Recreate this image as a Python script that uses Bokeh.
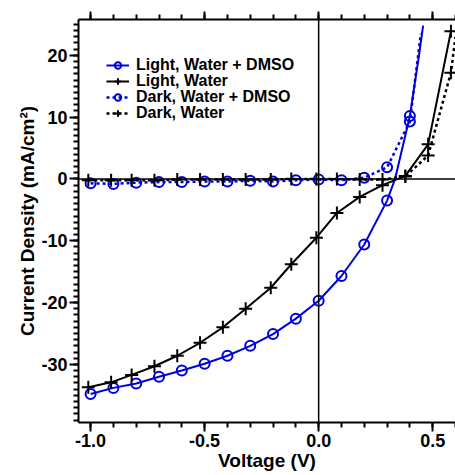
from bokeh.plotting import figure
from bokeh.models import (Range1d, LinearAxis, SingleIntervalTicker, Span, Legend,
                          LegendItem, PrintfTickFormatter, CustomJSTickFormatter)
from bokeh.embed import file_html
from bokeh.resources import INLINE

# ---- data ----
# Light, Water + DMSO (blue solid, circles)
ld_v = [-1.0, -0.9, -0.8, -0.7, -0.6, -0.5, -0.4, -0.3, -0.2, -0.1, 0.0, 0.1, 0.2, 0.3, 0.4]
ld_j = [-34.8, -33.8, -33.1, -32.0, -31.0, -29.9, -28.6, -27.0, -25.1, -22.6, -19.7, -15.7, -10.6, -3.5, 10.2]
# the drawn curve through the markers, with extra points
ld_curve_v = [-1.0, -0.9, -0.8, -0.7, -0.6, -0.5, -0.4, -0.3, -0.2, -0.1, 0.0, 0.1, 0.2, 0.3, 0.335, 0.4, 0.44, 0.458]
ld_curve_j = [-34.8, -33.8, -33.1, -32.0, -31.0, -29.9, -28.6, -27.0, -25.1, -22.6, -19.7, -15.7, -10.6, -3.5, 0.0, 10.2, 20.0, 24.8]

# Light, Water (black solid, plus)
lw_v = [-1.01, -0.91, -0.82, -0.72, -0.62, -0.52, -0.42, -0.32, -0.21, -0.12, -0.01, 0.08, 0.18, 0.28, 0.38, 0.48, 0.58]
lw_j = [-33.7, -32.9, -31.7, -30.3, -28.6, -26.5, -24.0, -21.0, -17.6, -13.8, -9.5, -5.5, -2.9, -1.0, 0.5, 5.6, 23.9]

# Dark, Water + DMSO (blue dashed, circles)
dd_v = [-1.0, -0.9, -0.8, -0.7, -0.6, -0.5, -0.4, -0.3, -0.2, -0.1, 0.0, 0.1, 0.2, 0.3, 0.4]
dd_j = [-0.7, -0.8, -0.6, -0.5, -0.5, -0.4, -0.4, -0.3, -0.4, -0.2, -0.1, -0.2, 0.2, 1.9, 9.3]
dd_curve_v = [-1.0, -0.9, -0.8, -0.7, -0.6, -0.5, -0.4, -0.3, -0.2, -0.1, 0.0, 0.1, 0.2, 0.3, 0.4, 0.448]
dd_curve_j = [-0.7, -0.8, -0.6, -0.5, -0.5, -0.4, -0.4, -0.3, -0.4, -0.2, -0.1, -0.2, 0.2, 1.9, 9.3, 23.5]

# Dark, Water (black dotted, plus)
dw_v = [-1.01, -0.91, -0.82, -0.72, -0.62, -0.52, -0.42, -0.32, -0.21, -0.12, -0.01, 0.08, 0.18, 0.28, 0.38, 0.48, 0.58]
dw_j = [-0.2, -0.2, -0.2, -0.2, -0.1, -0.1, -0.1, -0.1, -0.1, 0.0, 0.0, 0.0, -0.1, -0.1, 0.4, 3.8, 17.2]
dw_curve_v = [-1.01, -0.91, -0.82, -0.72, -0.62, -0.52, -0.42, -0.32, -0.21, -0.12, -0.01, 0.08, 0.18, 0.28, 0.38, 0.48, 0.58, 0.60]
dw_curve_j = [-0.2, -0.2, -0.2, -0.2, -0.1, -0.1, -0.1, -0.1, -0.1, 0.0, 0.0, 0.0, -0.1, -0.1, 0.4, 3.8, 17.2, 23.0]

labels = ["Light, Water + DMSO", "Light, Water", "Dark, Water + DMSO", "Dark, Water"]

BLUE = "#0000DD"
BLACK = "#000000"
FONT = "Liberation Sans"

p = figure(width=455, height=475,
           x_range=Range1d(-1.053, 0.60), y_range=Range1d(-39.4, 25.8),
           output_backend="svg", toolbar_location=None,
           min_border_left=78, min_border_right=0, min_border_top=19, min_border_bottom=53)
p.xgrid.visible = False
p.ygrid.visible = False
p.outline_line_color = None
p.background_fill_color = "white"

# axes
xa = p.xaxis[0]
xa.ticker = SingleIntervalTicker(interval=0.5, num_minor_ticks=5)
xa.formatter = PrintfTickFormatter(format="%.1f")
ya = p.yaxis[0]
ya.ticker = SingleIntervalTicker(interval=10, num_minor_ticks=10)
ya.formatter = PrintfTickFormatter(format="%d")
for ax in (xa, ya):
    ax.axis_line_width = 2
    ax.major_tick_line_width = 2
    ax.minor_tick_line_width = 2
    ax.major_tick_in = 0
    ax.minor_tick_in = 0
    ax.major_tick_out = 9
    ax.minor_tick_out = 5
    ax.major_label_text_font = FONT
    ax.major_label_text_font_style = "bold"
    ax.major_label_text_font_size = "18px"
    ax.major_label_text_color = "black"
    ax.axis_label_text_font = FONT
    ax.axis_label_text_font_style = "bold"
    ax.axis_label_text_font_size = "19px"
    ax.axis_label_text_color = "black"
xa.major_label_standoff = 2
xa.axis_label_standoff = 0
ya.major_label_standoff = 2
ya.axis_label_standoff = 0
xa.axis_label = "Voltage (V)"
ya.axis_label = "Current Density (mA/cm²)"

top = LinearAxis(ticker=SingleIntervalTicker(interval=0.5, num_minor_ticks=5),
                 formatter=CustomJSTickFormatter(code="return ''"),
                 axis_line_width=2, major_tick_line_width=2, minor_tick_line_width=2,
                 major_tick_in=0, minor_tick_in=0, major_tick_out=8, minor_tick_out=5,
                 major_label_standoff=0, major_label_text_font_size="1px")
p.add_layout(top, "above")

# zero lines
p.add_layout(Span(location=0, dimension="height", line_color="black", line_width=1.5))
p.add_layout(Span(location=0, dimension="width", line_color="black", line_width=1.5))

# series
r_ld_l = p.line(ld_curve_v, ld_curve_j, line_color=BLUE, line_width=2)
r_ld_m = p.scatter(ld_v, ld_j, marker="circle", size=10, fill_color=None, line_color=BLUE, line_width=2)

r_lw_l = p.line(lw_v, lw_j, line_color=BLACK, line_width=2)
r_lw_m = p.scatter(lw_v, lw_j, marker="cross", size=13, line_color=BLACK, line_width=2)

r_dd_l = p.line(dd_curve_v, dd_curve_j, line_color=BLUE, line_width=2.5, line_dash="3 3")
r_dd_m = p.scatter(dd_v, dd_j, marker="circle", size=10, fill_color=None, line_color=BLUE, line_width=2)

r_dw_l = p.line(dw_curve_v, dw_curve_j, line_color=BLACK, line_width=2.5, line_dash="3 3")
r_dw_m = p.scatter(dw_v, dw_j, marker="cross", size=13, line_color=BLACK, line_width=2)

# one legend entry per row, stacked 16 px apart as in the reference
series_renderers = [[r_ld_l, r_ld_m], [r_lw_l, r_lw_m], [r_dd_l, r_dd_m], [r_dw_l, r_dw_m]]
for i, (lab, rends) in enumerate(zip(labels, series_renderers)):
    lg = Legend(items=[LegendItem(label=lab, renderers=rends)],
                location=(28, 348 - 16 * i), margin=0, padding=4, spacing=0,
                border_line_color=None, background_fill_alpha=0,
                glyph_width=23, glyph_height=16, label_height=16, label_standoff=7,
                label_text_font=FONT, label_text_font_style="bold",
                label_text_font_size="16px", label_text_color="black")
    p.add_layout(lg)

open("out.html", "w").write(file_html(p, INLINE))
